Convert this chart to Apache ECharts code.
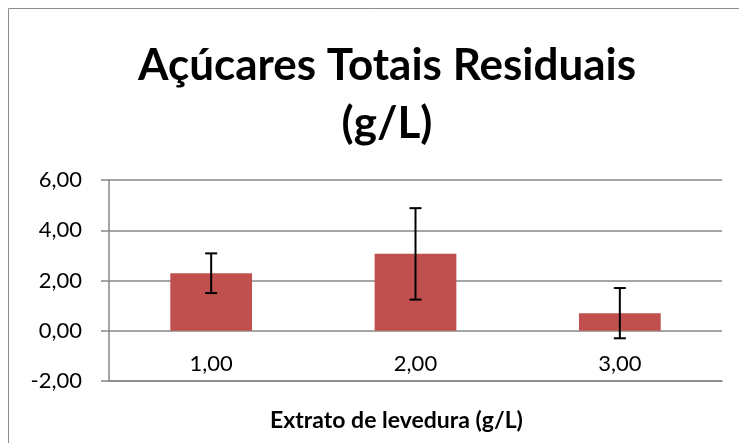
<!DOCTYPE html>
<html><head><meta charset="utf-8">
<script src="https://cdn.jsdelivr.net/npm/echarts@6/dist/echarts.min.js"></script>
<style>html,body{margin:0;padding:0;background:#fff}#c{width:739px;height:443px}</style>
</head><body><div id="c"></div>
<script>
var categories = ['1,00', '2,00', '3,00'];
var means = [2.29, 3.06, 0.70];
var errors = [0.79, 1.82, 1.00];
var yTicks = [-2, 0, 2, 4, 6];
var titleText = 'Açúcares Totais Residuais\n(g/L)';
var xName = 'Extrato de levedura (g/L)';

var FONT = 'Lato';
var GRAY = '#878787';
var chart = echarts.init(document.getElementById('c'));
var errData = means.map(function (m, i) { return [i, m - errors[i], m + errors[i]]; });
chart.setOption({
  animation: false,
  graphic: [{ type: 'rect', shape: { x: 8.5, y: 8.5, width: 900, height: 600 }, style: { fill: 'none', stroke: '#8c8c8c', lineWidth: 1 }, silent: true }],
  title: {
    text: titleText, left: 382, top: 32, textAlign: 'center',
    textStyle: { fontFamily: FONT, fontWeight: 'bold', fontSize: 44, lineHeight: 58, color: '#000' }
  },
  grid: { left: 109, right: 17, top: 180, bottom: 62, containLabel: false, outerBoundsMode: 'none' },
  xAxis: {
    type: 'category', data: categories,
    axisLine: { onZero: false, lineStyle: { color: GRAY, width: 1.5 } },
    axisTick: { show: false },
    axisLabel: { margin: -28, fontFamily: FONT, fontSize: 22, color: '#000' },
    name: xName, nameLocation: 'middle', nameGap: 28,
    nameTextStyle: { fontFamily: FONT, fontWeight: 'bold', fontSize: 23, color: '#000', padding: [0, 38, 0, 0] }
  },
  yAxis: {
    type: 'value', min: yTicks[0], max: yTicks[yTicks.length - 1], interval: 2,
    axisLine: { show: true, lineStyle: { color: GRAY, width: 1.5 } },
    axisTick: { show: true, length: 8, lineStyle: { color: GRAY, width: 1.5 } },
    splitLine: { lineStyle: { color: GRAY, width: 1.5 } },
    axisLabel: { margin: 27, fontFamily: FONT, fontSize: 22, color: '#000',
      formatter: function (v) { return v.toFixed(2).replace('.', ','); } }
  },
  series: [{
    type: 'bar', data: means, barWidth: '40%',
    itemStyle: { color: '#C0504D' }
  }, {
    type: 'custom', data: errData, z: 10,
    renderItem: function (params, api) {
      var x = api.value(0);
      var lo = api.coord([x, api.value(1)]);
      var hi = api.coord([x, api.value(2)]);
      var w = 6;
      var st = { stroke: '#000', lineWidth: 2 };
      return { type: 'group', children: [
        { type: 'line', shape: { x1: hi[0], y1: hi[1], x2: lo[0], y2: lo[1] }, style: st },
        { type: 'line', shape: { x1: hi[0] - w, y1: hi[1], x2: hi[0] + w, y2: hi[1] }, style: st },
        { type: 'line', shape: { x1: lo[0] - w, y1: lo[1], x2: lo[0] + w, y2: lo[1] }, style: st }
      ] };
    }
  }]
});
</script></body></html>
